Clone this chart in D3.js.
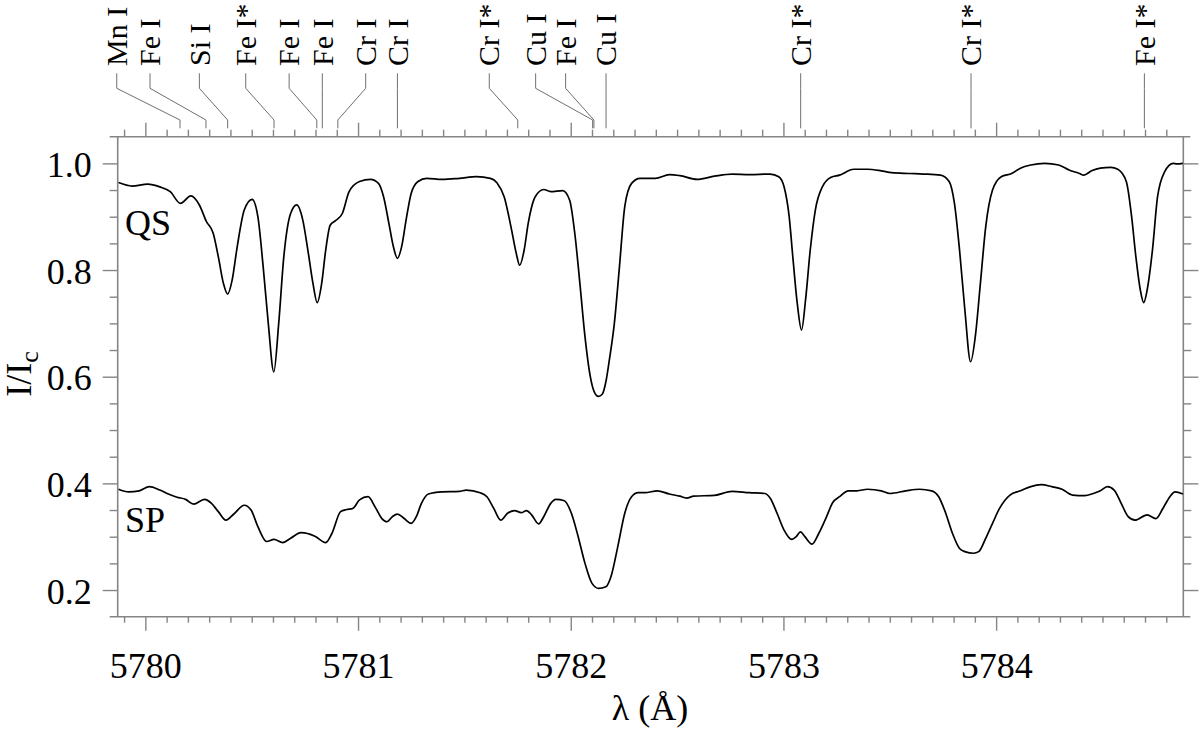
<!DOCTYPE html>
<html>
<head>
<meta charset="utf-8">
<script src="https://cdn.jsdelivr.net/npm/d3@7"></script>
<style>
  html, body { margin: 0; padding: 0; background: #fff; }
  svg { display: block; }
  text { font-family: "Liberation Serif", "Times New Roman", serif; fill: #000; }
</style>
</head>
<body>
<svg id="chart" width="1200" height="734"></svg>
<script>
// ---------------- DATA ----------------
// Quiet-Sun (QS) spectrum: wavelength (Å) and normalized intensity I/Ic
const qsWavelength = [
  5779.874, 5779.938, 5780.011, 5780.068, 5780.117, 5780.165, 5780.214, 5780.254, 5780.287, 5780.319,
  5780.343, 5780.367, 5780.387, 5780.408, 5780.432, 5780.465, 5780.502, 5780.529, 5780.554, 5780.578,
  5780.604, 5780.627, 5780.651, 5780.683, 5780.712, 5780.740, 5780.764, 5780.788, 5780.808, 5780.829,
  5780.848, 5780.869, 5780.894, 5780.926, 5780.958, 5781.007, 5781.059, 5781.096, 5781.120, 5781.145,
  5781.166, 5781.185, 5781.205, 5781.226, 5781.250, 5781.282, 5781.323, 5781.395, 5781.476, 5781.557,
  5781.622, 5781.655, 5781.687, 5781.719, 5781.744, 5781.760, 5781.781, 5781.800, 5781.833, 5781.873,
  5781.906, 5781.962, 5781.995, 5782.019, 5782.043, 5782.067, 5782.092, 5782.110, 5782.130, 5782.148,
  5782.165, 5782.181, 5782.205, 5782.229, 5782.254, 5782.286, 5782.326, 5782.398, 5782.464, 5782.513,
  5782.594, 5782.676, 5782.758, 5782.840, 5782.938, 5782.978, 5783.003, 5783.027, 5783.044, 5783.065,
  5783.085, 5783.104, 5783.126, 5783.150, 5783.183, 5783.224, 5783.264, 5783.330, 5783.395, 5783.460,
  5783.509, 5783.591, 5783.657, 5783.738, 5783.779, 5783.804, 5783.828, 5783.853, 5783.880, 5783.902,
  5783.926, 5783.951, 5783.983, 5784.024, 5784.073, 5784.114, 5784.163, 5784.228, 5784.294, 5784.343,
  5784.392, 5784.412, 5784.449, 5784.490, 5784.539, 5784.572, 5784.612, 5784.637, 5784.657, 5784.678,
  5784.694, 5784.710, 5784.735, 5784.759, 5784.792, 5784.833, 5784.849, 5784.878
];
const qsIntensity = [
  0.964, 0.9575, 0.961, 0.956, 0.947, 0.925, 0.939, 0.922, 0.891, 0.869,
  0.825, 0.775, 0.755, 0.781, 0.844, 0.9125, 0.9325, 0.900, 0.806, 0.700,
  0.609, 0.700, 0.825, 0.906, 0.922, 0.894, 0.8375, 0.775, 0.739, 0.775,
  0.8375, 0.884, 0.8925, 0.906, 0.947, 0.966, 0.970, 0.9625, 0.9375, 0.8875,
  0.844, 0.822, 0.844, 0.894, 0.944, 0.966, 0.972, 0.970, 0.972, 0.975,
  0.972, 0.9625, 0.9375, 0.881, 0.831, 0.809, 0.8375, 0.8875, 0.9375, 0.951,
  0.947, 0.949, 0.931, 0.869, 0.775, 0.675, 0.600, 0.572, 0.563, 0.567,
  0.590, 0.630, 0.700, 0.806, 0.919, 0.9625, 0.972, 0.972, 0.979, 0.977,
  0.970, 0.976, 0.980, 0.979, 0.980, 0.975, 0.956, 0.900, 0.825, 0.7375,
  0.6875, 0.744, 0.8375, 0.9125, 0.956, 0.974, 0.978, 0.989, 0.989, 0.986,
  0.9825, 0.981, 0.980, 0.978, 0.966, 0.925, 0.8375, 0.725, 0.628, 0.675,
  0.775, 0.881, 0.950, 0.975, 0.981, 0.991, 0.997, 1.000, 0.997, 0.9875,
  0.981, 0.978, 0.986, 0.991, 0.9925, 0.989, 0.966, 0.900, 0.825, 0.7625,
  0.739, 0.7625, 0.8375, 0.9375, 0.984, 1.000, 0.999, 1.000
];

// Sunspot (SP) spectrum
const spWavelength = [
  5779.874, 5779.922, 5779.971, 5780.019, 5780.068, 5780.108, 5780.149, 5780.189, 5780.227, 5780.278,
  5780.311, 5780.343, 5780.379, 5780.416, 5780.465, 5780.497, 5780.529, 5780.570, 5780.605, 5780.646,
  5780.683, 5780.732, 5780.797, 5780.848, 5780.877, 5780.918, 5780.946, 5780.975, 5781.007, 5781.047,
  5781.080, 5781.112, 5781.136, 5781.161, 5781.185, 5781.217, 5781.250, 5781.274, 5781.298, 5781.331,
  5781.395, 5781.476, 5781.509, 5781.574, 5781.606, 5781.638, 5781.671, 5781.703, 5781.736, 5781.768,
  5781.792, 5781.816, 5781.849, 5781.873, 5781.906, 5781.930, 5781.970, 5782.003, 5782.035, 5782.067,
  5782.100, 5782.132, 5782.165, 5782.189, 5782.221, 5782.254, 5782.286, 5782.318, 5782.349, 5782.407,
  5782.464, 5782.513, 5782.545, 5782.578, 5782.676, 5782.758, 5782.840, 5782.913, 5782.938, 5782.970,
  5783.003, 5783.039, 5783.060, 5783.080, 5783.101, 5783.134, 5783.166, 5783.199, 5783.232, 5783.264,
  5783.305, 5783.346, 5783.395, 5783.460, 5783.501, 5783.575, 5783.640, 5783.697, 5783.730, 5783.763,
  5783.795, 5783.828, 5783.853, 5783.894, 5783.918, 5783.951, 5783.983, 5784.016, 5784.065, 5784.114,
  5784.163, 5784.212, 5784.261, 5784.310, 5784.359, 5784.416, 5784.457, 5784.490, 5784.523, 5784.555,
  5784.588, 5784.621, 5784.653, 5784.710, 5784.751, 5784.784, 5784.817, 5784.841, 5784.878
];
const spIntensity = [
  0.389, 0.384, 0.386, 0.394, 0.3875, 0.380, 0.374, 0.370, 0.361, 0.370,
  0.3625, 0.347, 0.331, 0.3425, 0.359, 0.350, 0.319, 0.291, 0.295, 0.289,
  0.297, 0.3075, 0.301, 0.289, 0.306, 0.347, 0.351, 0.353, 0.369, 0.375,
  0.356, 0.334, 0.328, 0.3375, 0.3425, 0.334, 0.325, 0.3375, 0.3625, 0.380,
  0.384, 0.385, 0.3875, 0.3825, 0.375, 0.353, 0.331, 0.344, 0.349, 0.345,
  0.349, 0.341, 0.324, 0.3375, 0.3625, 0.370, 0.3675, 0.344, 0.300, 0.250,
  0.2125, 0.203, 0.206, 0.225, 0.281, 0.344, 0.375, 0.3825, 0.3825, 0.386,
  0.380, 0.376, 0.3725, 0.376, 0.3775, 0.385, 0.3825, 0.381, 0.372, 0.344,
  0.3125, 0.295, 0.300, 0.309, 0.300, 0.286, 0.306, 0.334, 0.364, 0.375,
  0.386, 0.386, 0.389, 0.386, 0.381, 0.386, 0.389, 0.386, 0.375, 0.344,
  0.306, 0.278, 0.272, 0.269, 0.272, 0.297, 0.325, 0.353, 0.378, 0.386,
  0.394, 0.3975, 0.394, 0.389, 0.378, 0.377, 0.381, 0.386, 0.394, 0.3875,
  0.3625, 0.3375, 0.331, 0.341, 0.334, 0.353, 0.375, 0.384, 0.380
];

// Spectral line identifications (top of the plot)
const lineNames = ["Mn I", "Fe I", "Si I", "Fe I*", "Fe I", "Fe I", "Cr I", "Cr I",
                   "Cr I*", "Cu I", "Fe I", "Cu I", "Cr I*", "Cr I*", "Fe I*"];
// rest wavelengths where each leader line ends (Å)
const lineWavelength = [5780.163, 5780.285, 5780.387, 5780.605, 5780.806, 5780.832, 5780.905, 5781.185,
                        5781.751, 5782.103, 5782.109, 5782.166, 5783.081, 5783.882, 5784.697];
// wavelength positions of the labels themselves (spread out to avoid overlap)
const labelWavelength = [5779.8655, 5780.022, 5780.254, 5780.472, 5780.676, 5780.832, 5781.036, 5781.185,
                         5781.617, 5781.835, 5781.976, 5782.166, 5783.081, 5783.882, 5784.697];

const xMajorTicks = [5780, 5781, 5782, 5783, 5784];
const yMajorTicks = [0.2, 0.4, 0.6, 0.8, 1.0];

// ---------------- CHART ----------------
const svg = d3.select("#chart");
const mLeft = 117.7, mRight = 1183.3, mTop = 136.7, mBottom = 616.7;
const x = d3.scaleLinear().domain([5779.870, 5784.880]).range([mLeft, mRight]);
const y = d3.scaleLinear().domain([0.15, 1.05]).range([mBottom, mTop]);

const axisColor = "#858585";
const FS = 36;

const xMinor = d3.range(5779.9, 5784.85, 0.1).map(v => +v.toFixed(1)).filter(v => !xMajorTicks.includes(v));
const yMinor = d3.range(0.2, 1.0001, 0.05).map(v => +v.toFixed(2)).filter(v => !yMajorTicks.some(m => Math.abs(m - v) < 1e-6));

function styleAxis(g) {
  g.select(".domain").remove();
  g.selectAll(".tick line").attr("stroke", axisColor).attr("stroke-width", 1.4);
  g.selectAll(".tick text").style("font-family", "'Liberation Serif', serif").style("font-size", FS + "px").attr("fill", "#000");
}

// bottom axis
svg.append("g").attr("transform", `translate(0,${mBottom})`)
  .call(d3.axisBottom(x).tickValues(xMinor).tickSize(6).tickFormat(""))
  .call(styleAxis);
svg.append("g").attr("transform", `translate(0,${mBottom})`)
  .call(d3.axisBottom(x).tickValues(xMajorTicks).tickSize(14).tickPadding(22).tickFormat(d3.format("d")))
  .call(styleAxis);
// top axis
svg.append("g").attr("transform", `translate(0,${mTop})`)
  .call(d3.axisTop(x).tickValues(xMinor).tickSize(7).tickFormat(""))
  .call(styleAxis);
svg.append("g").attr("transform", `translate(0,${mTop})`)
  .call(d3.axisTop(x).tickValues(xMajorTicks).tickSize(14).tickFormat(""))
  .call(styleAxis);
// left axis
svg.append("g").attr("transform", `translate(${mLeft},0)`)
  .call(d3.axisLeft(y).tickValues(yMinor).tickSize(8).tickFormat(""))
  .call(styleAxis);
const yl = svg.append("g").attr("transform", `translate(${mLeft},0)`)
  .call(d3.axisLeft(y).tickValues(yMajorTicks).tickSize(15).tickPadding(11).tickFormat(d3.format(".1f")))
  .call(styleAxis);
yl.selectAll(".tick text").attr("dy", "0.36em");
// right axis
svg.append("g").attr("transform", `translate(${mRight},0)`)
  .call(d3.axisRight(y).tickValues(yMinor).tickSize(8).tickFormat(""))
  .call(styleAxis);
svg.append("g").attr("transform", `translate(${mRight},0)`)
  .call(d3.axisRight(y).tickValues(yMajorTicks).tickSize(15).tickFormat(""))
  .call(styleAxis);

// frame
const frame = svg.append("g").attr("stroke", axisColor).attr("stroke-width", 1.6).attr("fill", "none");
frame.append("line").attr("x1", mLeft - 8).attr("x2", mRight + 7).attr("y1", mTop).attr("y2", mTop);
frame.append("line").attr("x1", mLeft - 8).attr("x2", mRight + 7).attr("y1", mBottom).attr("y2", mBottom);
frame.append("line").attr("x1", mLeft).attr("x2", mLeft).attr("y1", mTop).attr("y2", mBottom);
frame.append("line").attr("x1", mRight).attr("x2", mRight).attr("y1", mTop).attr("y2", mBottom);

// spectra
const line = d3.line().x(d => x(d[0])).y(d => y(d[1])).curve(d3.curveMonotoneX);
const qsData = qsWavelength.map((w, i) => [w, qsIntensity[i]]);
const spData = spWavelength.map((w, i) => [w, spIntensity[i]]);
[qsData, spData].forEach(data => {
  svg.append("path").datum(data).attr("d", line)
    .attr("fill", "none").attr("stroke", "#000").attr("stroke-width", 1.7)
    .attr("stroke-linejoin", "round");
});

// series labels
svg.append("text").attr("x", 125).attr("y", 235).style("font-size", FS + "px").text("QS");
svg.append("text").attr("x", 125).attr("y", 532).style("font-size", FS + "px").text("SP");

// line identifications
const idG = svg.append("g");
const yTextBottom = 66, yLeadTop = 73.3, yKnee1 = 88.3, yKnee2 = 120, yLeadEnd = 128.3;
lineNames.forEach((name, i) => {
  const lx = x(labelWavelength[i]);
  const ex = x(lineWavelength[i]);
  idG.append("path")
    .attr("d", `M${lx},${yLeadTop}L${lx},${yKnee1}L${ex},${yKnee2}L${ex},${yLeadEnd}`)
    .attr("fill", "none").attr("stroke", "#6f6f6f").attr("stroke-width", 1);
  idG.append("text")
    .attr("transform", `translate(${lx},${yTextBottom}) rotate(-90)`)
    .attr("dy", "0.34em")
    .attr("text-anchor", "start")
    .style("font-size", "30px")
    .text(name);
});

// axis titles
svg.append("text").attr("x", 650).attr("y", 720).attr("text-anchor", "middle")
  .style("font-size", FS + "px").text("λ (Å)");
const yt = svg.append("text").attr("transform", "translate(31,374) rotate(-90)")
  .attr("text-anchor", "middle").style("font-size", FS + "px");
yt.append("tspan").text("I/I");
yt.append("tspan").attr("dy", "0.28em").style("font-size", "26px").text("c");
</script>
</body>
</html>
